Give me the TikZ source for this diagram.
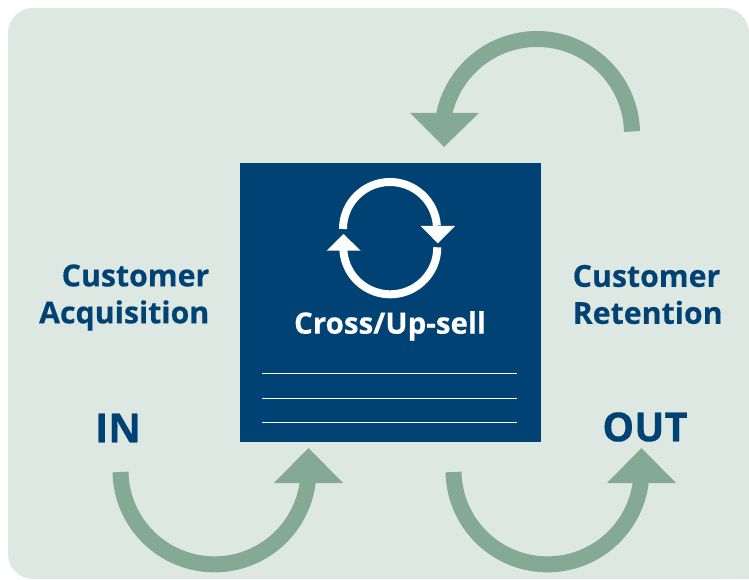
\documentclass[tikz,border=0pt]{standalone}
\usepackage{fontspec}
\setmainfont{Open Sans}[BoldFont={Open Sans Bold},BoldFeatures={FakeBold=0.35}]
\definecolor{bgc}{HTML}{DEE8E2}
\definecolor{arc}{HTML}{84AA96}
\definecolor{navy}{HTML}{004273}
\tikzset{
  flow/.style={draw=arc,line width=16pt,line cap=butt},
  flowhead/.style={fill=arc,draw=none},
  cyc/.style={draw=white,line width=8pt,line cap=butt},
  cychead/.style={fill=white,draw=none},
  rule/.style={draw=white,line width=1pt},
  lab/.style={text=navy,font=\bfseries\fontsize{30.3}{37}\selectfont,inner sep=0pt},
  big/.style={text=navy,font=\bfseries\fontsize{40}{44}\selectfont,inner sep=0pt},
}
\begin{document}
\begin{tikzpicture}[x=1pt,y=1pt]
\useasboundingbox (0,0) rectangle (749,579);
\fill[bgc,rounded corners=25pt] (8,0) rectangle (749,571);
\fill[bgc] (700,0) rectangle (749,60);
\node[fill=navy,draw=none,minimum width=301pt,minimum height=279pt,inner sep=0pt] (box) at (390.5,276.5) {};
% big arrows
\coordinate (a1) at (120.5,107);
\draw[flow] (a1) arc[start angle=181,end angle=356,radius=94];
\fill[flowhead] (308.5,131) -- (274,96) -- (343,96) -- cycle;
\coordinate (a2) at (453.5,107);
\draw[flow] (a2) arc[start angle=181,end angle=356,radius=94];
\fill[flowhead] (641.5,131) -- (607,96) -- (676,96) -- cycle;
\coordinate (a3) at (632,447.5);
\draw[flow] (a3) arc[start angle=1.5,end angle=173,radius=95];
\fill[flowhead] (444,432) -- (410,466) -- (479,466) -- cycle;
% cycle icon
\coordinate (c1) at (343,350);
\draw[cyc] (c1) arc[start angle=180,end angle=4,radius=47];
\fill[cychead] (437.7,335.7) -- (420.7,353) -- (455,353) -- cycle;
\coordinate (c2) at (437.3,331.7);
\draw[cyc] (c2) arc[start angle=0,end angle=-184,radius=47];
\fill[cychead] (343.5,345) -- (326.7,328.3) -- (360.7,328.3) -- cycle;
\node[text=white,font=\bfseries\fontsize{29.5}{32}\selectfont,inner sep=0pt] (cs) at (390,253) {Cross/Up-sell};
\coordinate (r1a) at (262,206); \coordinate (r1b) at (517,206);
\coordinate (r2a) at (262,181); \coordinate (r2b) at (517,181);
\coordinate (r3a) at (262,157); \coordinate (r3b) at (517,157);
\draw[rule] (r1a) -- (r1b);
\draw[rule] (r2a) -- (r2b);
\draw[rule] (r3a) -- (r3b);
\node[lab,align=right,anchor=east] (ca) at (209.5,281.5) {Customer\\Acquisition};
\node[lab,align=left,anchor=west] (cr) at (572.5,284.5) {Customer\\Retention};
\node[big] (in) at (118,151) {IN};
\node[big] (out) at (645,152) {OUT};
\end{tikzpicture}
\end{document}
